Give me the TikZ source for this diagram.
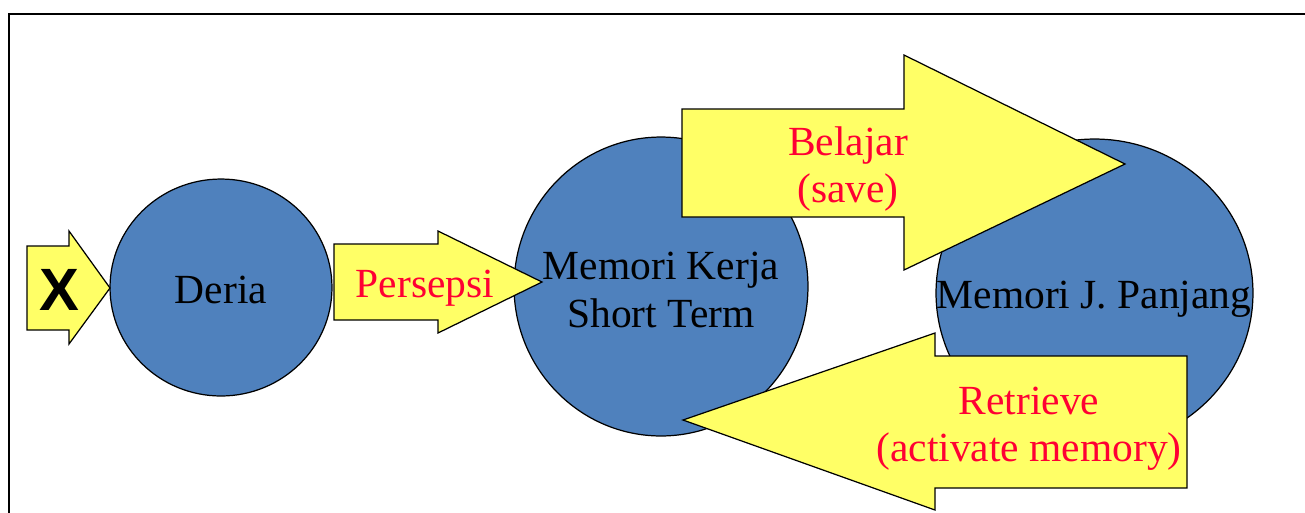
\documentclass[tikz,border=0pt]{standalone}
\usepackage{fontspec}
\setmainfont{Liberation Serif}
\newfontfamily\heavysans{Liberation Sans}
\usetikzlibrary{shapes.geometric}
\definecolor{blob}{HTML}{4F81BD}
\definecolor{pad}{HTML}{FFFF66}
\definecolor{redtext}{HTML}{FF0033}

\begin{document}
\begin{tikzpicture}[x=0.02cm,y=-0.02cm,
    every node/.style={inner sep=0,outer sep=0},
    memory/.style={ellipse,fill=blob,draw=black,line width=0.7pt},
    block/.style={fill=pad,draw=black,line width=0.7pt,line join=miter},
    words/.style={font=\fontsize{23.6}{26.8}\selectfont,align=center},
    redwords/.style={words,text=redtext}
    ]
    \useasboundingbox (0,0) rectangle (1305,512);

    %frame: only top and left edges show
    \draw[line width=1.1pt] (9,530) -- (9,14) -- (1320,14);

    %the three memory stores
    \node[memory,minimum width=4.44cm,minimum height=4.34cm] (deria) at (221,287.5) {};
    \node[memory,minimum width=5.88cm,minimum height=5.98cm] (kerja) at (661,286.5) {};
    \node[memory,minimum width=6.34cm,minimum height=6.16cm] (panjang) at (1094.5,293) {};

    %block arrows, drawn over the circles
    \filldraw[block] (27,246) -- (69,246) -- (69,231) -- (110,288)
        -- (69,344) -- (69,330) -- (27,330) -- cycle;
    \filldraw[block] (334,244) -- (438,244) -- (438,231) -- (542,282)
        -- (438,333) -- (438,320) -- (334,320) -- cycle;
    \filldraw[block] (682,109) -- (904,109) -- (904,55) -- (1125,164)
        -- (904,270) -- (904,217) -- (682,217) -- cycle;
    \filldraw[block] (1187,356) -- (935,356) -- (935,333) -- (683,420)
        -- (935,510) -- (935,488) -- (1187,488) -- cycle;

    %texts
    \node[font=\heavysans\bfseries\fontsize{34}{34}\selectfont] (input) at (59,290) {X};
    \node[words] (deriatext) at (221,290) {Deria};
    \node[words] (kerjatext) at (661,290) {Memori Kerja\\Short Term};
    \node[words] (panjangtext) at (1094,299) {Memori J. Panjang};

    \node[redwords] (persepsi) at (425,288) {Persepsi};
    \node[redwords] (belajar) at (848,169) {Belajar\\(save)};
    \node[redwords] (retrieve) at (1029,429) {Retrieve\\(activate memory)};
\end{tikzpicture}
\end{document}
